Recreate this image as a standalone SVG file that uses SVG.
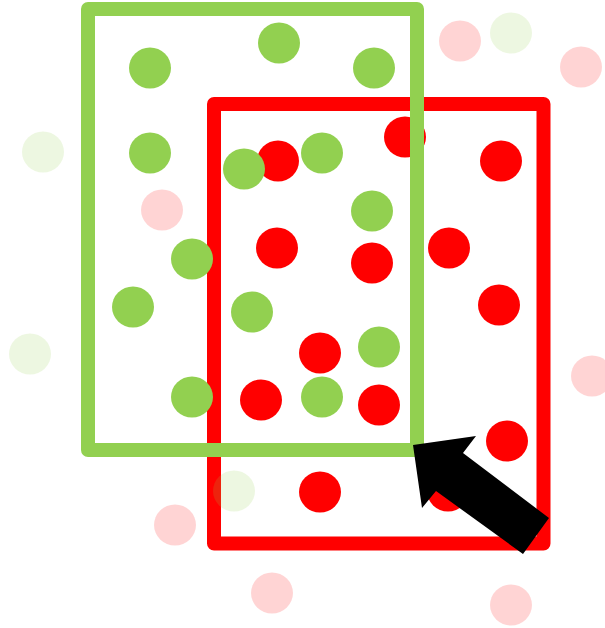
<svg xmlns="http://www.w3.org/2000/svg" width="605" height="628" viewBox="0 0 605 628">
<style>
.g{fill:#92D050}
.r{fill:#FF0000}
.fg{fill:#92D050;fill-opacity:0.17}
.fr{fill:#FF0000;fill-opacity:0.17}
.box{fill:none;stroke-width:14;stroke-linejoin:round}
</style>
<rect width="605" height="628" fill="#FFFFFF"/>
<g id="red-box"><rect class="box" x="214" y="104" width="329.5" height="439.5" stroke="#FF0000"/></g>
<g id="red-dots">
<ellipse class="r" cx="278" cy="161" rx="21" ry="20.5"/>
<ellipse class="r" cx="405" cy="137" rx="21" ry="20.5"/>
<ellipse class="r" cx="501" cy="161" rx="21" ry="20.5"/>
<ellipse class="r" cx="277" cy="248" rx="21" ry="20.5"/>
<ellipse class="r" cx="372" cy="263" rx="21" ry="20.5"/>
<ellipse class="r" cx="449" cy="248" rx="21" ry="20.5"/>
<ellipse class="r" cx="499" cy="305" rx="21" ry="20.5"/>
<ellipse class="r" cx="320" cy="353" rx="21" ry="20.5"/>
<ellipse class="r" cx="261" cy="400" rx="21" ry="20.5"/>
<ellipse class="r" cx="379" cy="405" rx="21" ry="20.5"/>
<ellipse class="r" cx="507" cy="441" rx="21" ry="20.5"/>
<ellipse class="r" cx="320" cy="492" rx="21" ry="20.5"/>
<ellipse class="r" cx="448" cy="491" rx="21" ry="20.5"/>
</g>
<g id="green-box"><rect class="box" x="88" y="9" width="329" height="441" stroke="#92D050"/></g>
<g id="green-dots">
<ellipse class="g" cx="150" cy="68" rx="21" ry="20.5"/>
<ellipse class="g" cx="279" cy="43" rx="21" ry="20.5"/>
<ellipse class="g" cx="374" cy="68" rx="21" ry="20.5"/>
<ellipse class="g" cx="150" cy="153" rx="21" ry="20.5"/>
<ellipse class="g" cx="244" cy="169" rx="21" ry="20.5"/>
<ellipse class="g" cx="322" cy="153" rx="21" ry="20.5"/>
<ellipse class="g" cx="372" cy="211" rx="21" ry="20.5"/>
<ellipse class="g" cx="192" cy="259" rx="21" ry="20.5"/>
<ellipse class="g" cx="133" cy="307" rx="21" ry="20.5"/>
<ellipse class="g" cx="252" cy="312" rx="21" ry="20.5"/>
<ellipse class="g" cx="379" cy="347" rx="21" ry="20.5"/>
<ellipse class="g" cx="192" cy="397" rx="21" ry="20.5"/>
<ellipse class="g" cx="322" cy="397" rx="21" ry="20.5"/>
</g>
<g id="faded-dots">
<ellipse class="fr" cx="460" cy="41" rx="21" ry="20.5"/>
<ellipse class="fr" cx="581" cy="67" rx="21" ry="20.5"/>
<ellipse class="fr" cx="162" cy="210" rx="21" ry="20.5"/>
<ellipse class="fr" cx="592" cy="376" rx="21" ry="20.5"/>
<ellipse class="fr" cx="175" cy="525" rx="21" ry="20.5"/>
<ellipse class="fr" cx="272" cy="593" rx="21" ry="20.5"/>
<ellipse class="fr" cx="511" cy="605" rx="21" ry="20.5"/>
<ellipse class="fg" cx="511" cy="33" rx="21" ry="20.5"/>
<ellipse class="fg" cx="43" cy="152" rx="21" ry="20.5"/>
<ellipse class="fg" cx="30" cy="354" rx="21" ry="20.5"/>
<ellipse class="fg" cx="234" cy="491" rx="21" ry="20.5"/>
</g>
<g id="connectors">
<polygon id="arrow" fill="#000000" points="413,445 476,436 463,453 549,518 523,554 436,491 422,508"/>
</g>
</svg>
